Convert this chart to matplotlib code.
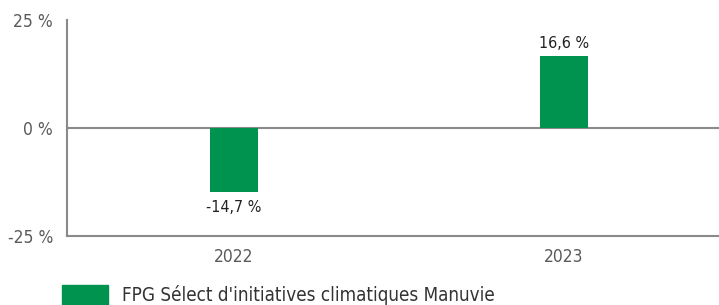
import matplotlib.pyplot as plt
from matplotlib.patches import Rectangle

# données
annees = ["2022", "2023"]
rendements = [-14.7, 16.6]
etiquettes = ["-14,7 %", "16,6 %"]
ticks_y = [-25, 0, 25]
ticks_y_labels = ["-25 %", "0 %", "25 %"]
serie = "FPG Sélect d'initiatives climatiques Manuvie"

VERT = "#00934f"
GRIS = "#8a8a8a"

plt.rcParams["font.family"] = ["DejaVu Sans"]
plt.rcParams["font.stretch"] = "condensed"

fig = plt.figure(figsize=(7.19, 3.05), dpi=100)
ax = fig.add_axes([67 / 719, 1 - 236 / 305, (719 - 67) / 719, 216 / 305])

x = list(range(len(annees)))
ax.bar(x, rendements, width=0.145, color=VERT, zorder=3)
ax.axhline(0, color=GRIS, lw=1.5, zorder=2)

for xi, v, t in zip(x, rendements, etiquettes):
    if v >= 0:
        ax.annotate(t, (xi, v), xytext=(0, 4), textcoords="offset points",
                    ha="center", va="bottom", fontsize=11.5, color="#222222")
    else:
        ax.annotate(t, (xi, v), xytext=(0, -6), textcoords="offset points",
                    ha="center", va="top", fontsize=11.5, color="#222222")

ax.set_xlim(-0.506, 1.47)
ax.set_ylim(-25, 25)
ax.set_yticks(ticks_y)
ax.set_yticklabels(ticks_y_labels)
ax.set_xticks(x)
ax.set_xticklabels(annees)
ax.tick_params(length=0, labelsize=12.5, labelcolor="#5a5a5a")
ax.tick_params(axis="y", pad=10)
ax.tick_params(axis="x", pad=9)

for s in ["top", "right"]:
    ax.spines[s].set_visible(False)
for s in ["left", "bottom"]:
    ax.spines[s].set_color(GRIS)
    ax.spines[s].set_linewidth(1.5)

# légende
fig.patches.append(Rectangle((62 / 719, 0), 46 / 719, 20 / 305,
                             transform=fig.transFigure, color=VERT))
fig.text(122 / 719, 10 / 305, serie, fontsize=13.5, color="#333333",
         va="center", ha="left")

fig.savefig("out.png", dpi=100)
